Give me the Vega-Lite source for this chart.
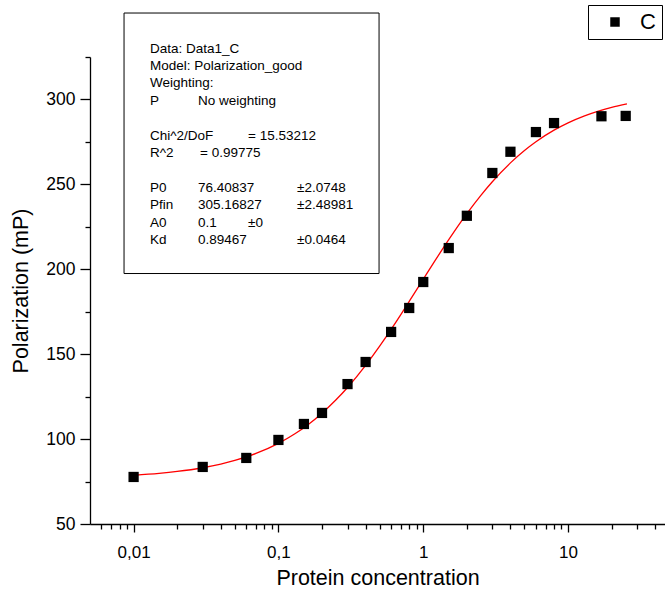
{
  "$schema": "https://vega.github.io/schema/vega-lite/v6.json",
  "autosize": {"type": "none"},
  "padding": {"left": 90, "top": 57, "right": 0, "bottom": 68},
  "width": 575,
  "height": 467,
  "background": "white",
  "config": {
    "view": {"stroke": null},
    "font": "Liberation Sans",
    "axis": {"grid": false, "domainColor": "black", "domainWidth": 1.3, "tickColor": "black", "tickWidth": 1.3, "labelColor": "black", "titleColor": "black", "labelFont": "Liberation Sans", "titleFont": "Liberation Sans", "titleFontWeight": "normal"}
  },
  "datasets": {
    "points": [
      {"conc": 0.01, "pol": 77.7, "series": "C"},
      {"conc": 0.03, "pol": 83.6, "series": "C"},
      {"conc": 0.06, "pol": 88.9, "series": "C"},
      {"conc": 0.1, "pol": 99.5, "series": "C"},
      {"conc": 0.15, "pol": 108.9, "series": "C"},
      {"conc": 0.2, "pol": 115.4, "series": "C"},
      {"conc": 0.3, "pol": 132.4, "series": "C"},
      {"conc": 0.4, "pol": 145.4, "series": "C"},
      {"conc": 0.6, "pol": 163.1, "series": "C"},
      {"conc": 0.8, "pol": 177.2, "series": "C"},
      {"conc": 1, "pol": 192.5, "series": "C"},
      {"conc": 1.5, "pol": 212.5, "series": "C"},
      {"conc": 2, "pol": 231.5, "series": "C"},
      {"conc": 3, "pol": 256.7, "series": "C"},
      {"conc": 4, "pol": 269.2, "series": "C"},
      {"conc": 6, "pol": 280.8, "series": "C"},
      {"conc": 8, "pol": 286.1, "series": "C"},
      {"conc": 17, "pol": 290.1, "series": "C"},
      {"conc": 25, "pol": 290.3, "series": "C"}
    ],
    "fit": [
      {"conc": 0.01, "pol": 78.69},
      {"conc": 0.015, "pol": 79.81},
      {"conc": 0.02, "pol": 80.93},
      {"conc": 0.03, "pol": 83.13},
      {"conc": 0.04, "pol": 85.29},
      {"conc": 0.05, "pol": 87.41},
      {"conc": 0.07, "pol": 91.54},
      {"conc": 0.1, "pol": 97.48},
      {"conc": 0.13, "pol": 103.13},
      {"conc": 0.16, "pol": 108.5},
      {"conc": 0.2, "pol": 115.26},
      {"conc": 0.25, "pol": 123.12},
      {"conc": 0.3, "pol": 130.4},
      {"conc": 0.4, "pol": 143.43},
      {"conc": 0.5, "pol": 154.73},
      {"conc": 0.6, "pol": 164.61},
      {"conc": 0.7, "pol": 173.32},
      {"conc": 0.8, "pol": 181.05},
      {"conc": 1, "pol": 194.13},
      {"conc": 1.2, "pol": 204.77},
      {"conc": 1.5, "pol": 217.44},
      {"conc": 2, "pol": 232.76},
      {"conc": 2.5, "pol": 243.55},
      {"conc": 3, "pol": 251.57},
      {"conc": 4, "pol": 262.65},
      {"conc": 5, "pol": 269.94},
      {"conc": 6, "pol": 275.11},
      {"conc": 8, "pol": 281.92},
      {"conc": 10, "pol": 286.22},
      {"conc": 13, "pol": 290.34},
      {"conc": 16, "pol": 292.99},
      {"conc": 20, "pol": 295.33},
      {"conc": 25.5, "pol": 297.39}
    ],
    "box": [
      {"x1": 0.00859, "x2": 0.4953, "y1": 197.5, "y2": 350.9}
    ],
    "notes": [
      {"t": "Data: Data1_C", "x": 0.01298, "y": 330.0},
      {"t": "Model: Polarization_good", "x": 0.01298, "y": 319.76},
      {"t": "Weighting:", "x": 0.01298, "y": 309.51},
      {"t": "P", "x": 0.01298, "y": 299.27},
      {"t": "No weighting", "x": 0.02786, "y": 299.27},
      {"t": "Chi^2/DoF", "x": 0.01298, "y": 278.77},
      {"t": "= 15.53212", "x": 0.0617, "y": 278.77},
      {"t": "R^2", "x": 0.01298, "y": 268.53},
      {"t": "=  0.99775", "x": 0.02875, "y": 268.53},
      {"t": "P0", "x": 0.01298, "y": 248.04},
      {"t": "76.40837", "x": 0.02786, "y": 248.04},
      {"t": "±2.0748", "x": 0.13446, "y": 248.04},
      {"t": "Pfin", "x": 0.01298, "y": 237.79},
      {"t": "305.16827", "x": 0.02786, "y": 237.79},
      {"t": "±2.48981", "x": 0.13446, "y": 237.79},
      {"t": "A0", "x": 0.01298, "y": 227.54},
      {"t": "0.1", "x": 0.02786, "y": 227.54},
      {"t": "±0", "x": 0.0617, "y": 227.54},
      {"t": "Kd", "x": 0.01298, "y": 217.3},
      {"t": "0.89467", "x": 0.02786, "y": 217.3},
      {"t": "±0.0464", "x": 0.13446, "y": 217.3}
    ]
  },
  "layer": [
    {
      "data": {"name": "fit"},
      "mark": {"type": "line", "color": "#ff0000", "strokeWidth": 1.3, "interpolate": "monotone"},
      "encoding": {
        "x": {
          "field": "conc", "type": "quantitative",
          "scale": {"type": "log", "domain": [0.005, 46.7], "nice": false},
          "axis": {
            "title": "Protein concentration",
            "titleFontSize": 21.5,
            "titlePadding": 7,
            "labelFontSize": 17,
            "labelPadding": 12,
            "values": [0.006, 0.007, 0.008, 0.009, 0.01, 0.02, 0.03, 0.04, 0.05, 0.06, 0.07, 0.08, 0.09, 0.1, 0.2, 0.3, 0.4, 0.5, 0.6, 0.7, 0.8, 0.9, 1, 2, 3, 4, 5, 6, 7, 8, 9, 10, 20, 30, 40],
            "labelExpr": "datum.value == 0.01 ? '0,01' : datum.value == 0.1 ? '0,1' : datum.value == 1 ? '1' : datum.value == 10 ? '10' : ''",
            "tickSize": {"condition": {"test": "indexof([0.01, 0.1, 1, 10], datum.value) >= 0", "value": 8}, "value": 5},
            "labelFlush": false,
            "labelOverlap": false
          }
        },
        "y": {
          "field": "pol", "type": "quantitative",
          "scale": {"domain": [50, 325], "nice": false, "zero": false},
          "axis": {
            "title": "Polarization (mP)",
            "titleFontSize": 21.5,
            "titlePadding": 13,
            "labelFontSize": 17.5,
            "labelPadding": 5,
            "values": [50, 75, 100, 125, 150, 175, 200, 225, 250, 275, 300, 325],
            "labelExpr": "datum.value % 50 == 0 ? datum.label : ''",
            "tickSize": {"condition": {"test": "datum.value % 50 == 0", "value": 10}, "value": 5},
            "labelFlush": false,
            "labelOverlap": false
          }
        }
      }
    },
    {
      "data": {"name": "points"},
      "mark": {"type": "point", "shape": "square", "filled": true, "size": 105, "opacity": 1},
      "encoding": {
        "x": {"field": "conc", "type": "quantitative"},
        "y": {"field": "pol", "type": "quantitative"},
        "color": {
          "field": "series", "type": "nominal",
          "scale": {"domain": ["C"], "range": ["black"]},
          "legend": {
            "title": null,
            "orient": "none",
            "legendX": 498,
            "legendY": -52,
            "strokeColor": "black",
            "padding": 6,
            "symbolType": "square",
            "symbolSize": 90,
            "symbolStrokeWidth": 0,
            "symbolOffset": 10,
            "labelOffset": 14,
            "labelFontSize": 22,
            "labelFont": "Liberation Sans",
            "labelColor": "black",
            "labelExpr": "datum.label + '\u00a0\u00a0'"
          }
        }
      }
    },
    {
      "data": {"name": "box"},
      "mark": {"type": "rect", "fill": "white", "stroke": "black", "strokeWidth": 1},
      "encoding": {
        "x": {"field": "x1", "type": "quantitative"},
        "x2": {"field": "x2"},
        "y": {"field": "y1", "type": "quantitative"},
        "y2": {"field": "y2"}
      }
    },
    {
      "data": {"name": "notes"},
      "mark": {"type": "text", "align": "left", "baseline": "middle", "fontSize": 13.5, "font": "Liberation Sans", "color": "black"},
      "encoding": {
        "x": {"field": "x", "type": "quantitative"},
        "y": {"field": "y", "type": "quantitative"},
        "text": {"field": "t"}
      }
    }
  ]
}
